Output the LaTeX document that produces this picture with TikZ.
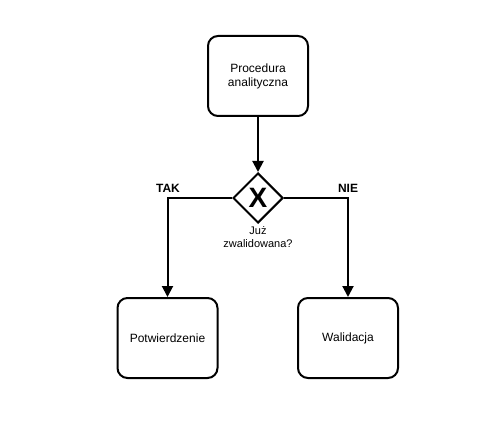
\documentclass[tikz,border=0pt]{standalone}
\usepackage{fontspec}
\setmainfont{Liberation Sans}
\usetikzlibrary{arrows.meta,shapes.geometric}
\begin{document}
\begin{tikzpicture}[x=1pt,y=-1pt,
  task/.style={draw,line width=2pt,rounded corners=10pt,minimum width=100pt,minimum height=80pt,align=center,font=\fontsize{12}{14}\selectfont,inner sep=0pt},
  conn/.style={line width=2pt,-{Triangle[length=11pt,width=11pt]}},
  lbl/.style={font=\bfseries\fontsize{12}{14}\selectfont,inner sep=0pt}]
\useasboundingbox (0,0) rectangle (493,441);
\node[task] (proc) at (258,76) {Procedura\\analityczna};
\node[draw,line width=2pt,diamond,minimum width=50pt,minimum height=50pt,inner sep=0pt] (gw) at (258,198) {};
\node[font=\bfseries\fontsize{28}{28}\selectfont,inner sep=0pt] (x) at (258,198) {X};
\node[align=center,font=\fontsize{11}{13}\selectfont,inner sep=0pt] (q) at (258,237) {Już\\zwalidowana?};
\node[task] (pot) at (167.5,338) {Potwierdzenie};
\node[task] (wal) at (348,338) {Walidacja};
\draw[conn] (proc.south) -- (gw.north);
\draw[conn] (gw.west) -| (pot.north);
\draw[conn] (gw.east) -| (wal.north);
\node[lbl] (tak) at (168,188) {TAK};
\node[lbl] (nie) at (348,188) {NIE};
\end{tikzpicture}
\end{document}
